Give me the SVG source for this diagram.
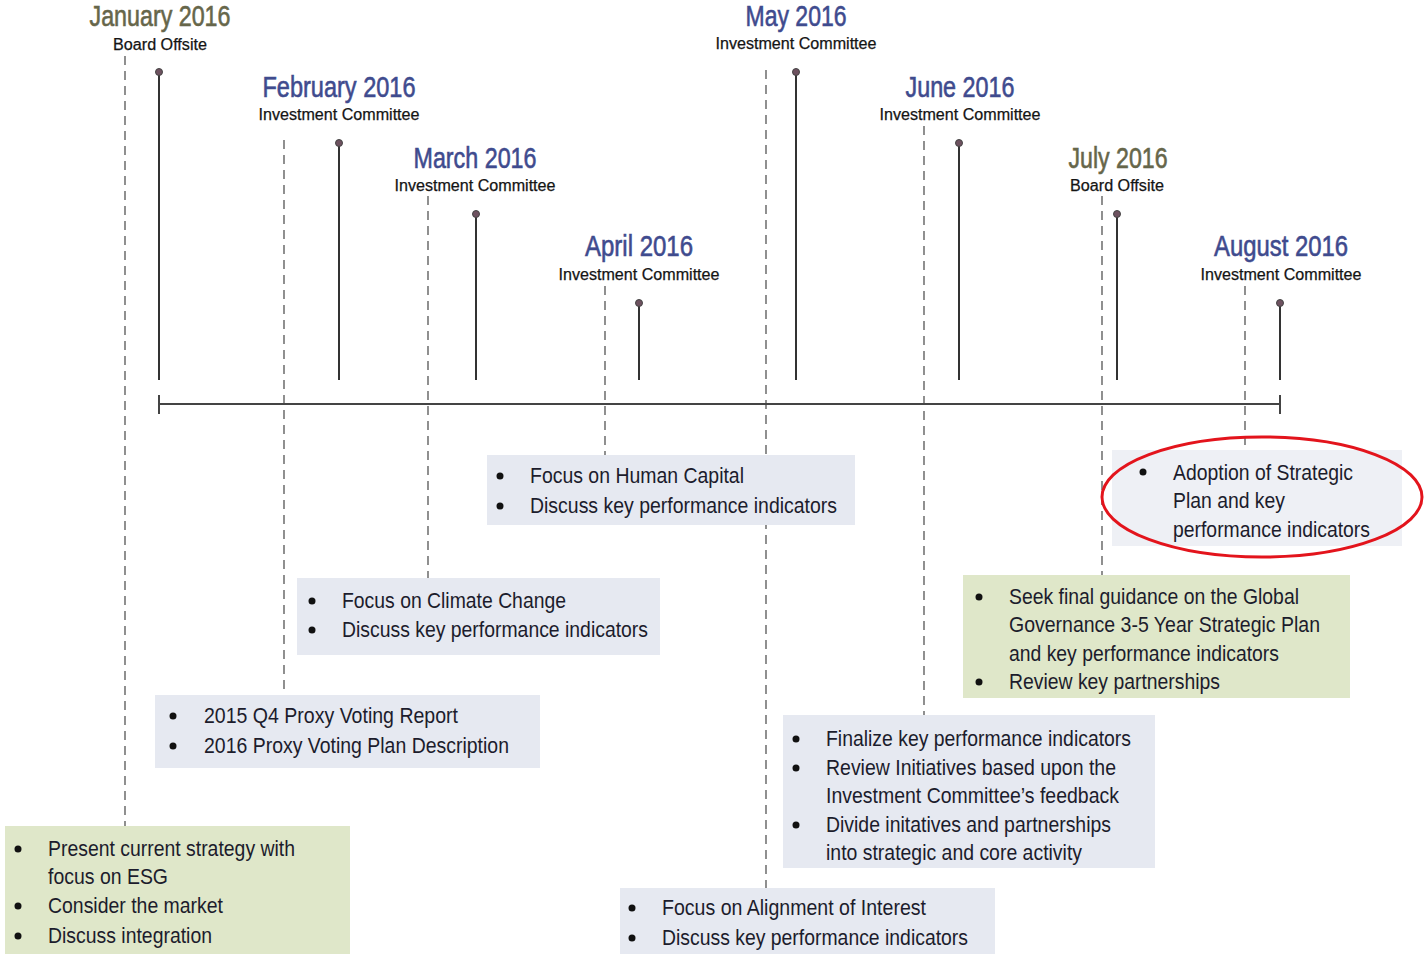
<svg xmlns="http://www.w3.org/2000/svg" width="1426" height="956" viewBox="0 0 1426 956">
<style>
.title{font-family:"Liberation Sans Narrow","Liberation Sans",Arial,sans-serif;font-size:29px;text-anchor:middle;stroke-width:0.6px}
.blue{fill:#3f4b8e;stroke:#3f4b8e}
.olive{fill:#66664a;stroke:#66664a}
.sub{font-family:"Liberation Sans",Arial,sans-serif;font-size:16px;fill:#141414;text-anchor:middle;stroke:#141414;stroke-width:0.25px}
.body{font-family:"Liberation Sans",Arial,sans-serif;font-size:22.5px;fill:#1c1c2c}
.bx{fill:#e6e9f1}
.gx{fill:#dfe7c9}
.dash{stroke:#555;stroke-width:1.3;stroke-dasharray:9 6;fill:none}
.pin{stroke:#333;stroke-width:2;fill:none}
.head{fill:#6e5260;stroke:#444;stroke-width:1}
.bul{fill:#111}
</style>
<rect width="1426" height="956" fill="#ffffff"/>

<g id="connectors">
  <line class="dash" x1="125" y1="56" x2="125" y2="826"/>
  <line class="dash" x1="284" y1="140" x2="284" y2="695"/>
  <line class="dash" x1="428" y1="196" x2="428" y2="578"/>
  <line class="dash" x1="605" y1="286" x2="605" y2="455"/>
  <line class="dash" x1="766" y1="70" x2="766" y2="888"/>
  <line class="dash" x1="924" y1="126" x2="924" y2="715"/>
  <line class="dash" x1="1102" y1="196" x2="1102" y2="575"/>
  <line class="dash" x1="1245" y1="286" x2="1245" y2="447"/>
  <line class="pin" x1="159" y1="72" x2="159" y2="380"/>
  <line class="pin" x1="339" y1="143" x2="339" y2="380"/>
  <line class="pin" x1="476" y1="214" x2="476" y2="380"/>
  <line class="pin" x1="639" y1="303" x2="639" y2="380"/>
  <line class="pin" x1="796" y1="72" x2="796" y2="380"/>
  <line class="pin" x1="959" y1="143" x2="959" y2="380"/>
  <line class="pin" x1="1117" y1="214" x2="1117" y2="380"/>
  <line class="pin" x1="1280" y1="303" x2="1280" y2="380"/>
  <circle class="head" cx="159" cy="72" r="3.5"/>
  <circle class="head" cx="339" cy="143" r="3.5"/>
  <circle class="head" cx="476" cy="214" r="3.5"/>
  <circle class="head" cx="639" cy="303" r="3.5"/>
  <circle class="head" cx="796" cy="72" r="3.5"/>
  <circle class="head" cx="959" cy="143" r="3.5"/>
  <circle class="head" cx="1117" cy="214" r="3.5"/>
  <circle class="head" cx="1280" cy="303" r="3.5"/>
  <line x1="159" y1="404" x2="1280" y2="404" stroke="#444" stroke-width="2"/>
  <line x1="159" y1="395" x2="159" y2="414" stroke="#444" stroke-width="2"/>
  <line x1="1280" y1="395" x2="1280" y2="414" stroke="#444" stroke-width="2"/>
</g>

<g id="jan">
  <text class="title olive" x="160" y="26" textLength="141" lengthAdjust="spacingAndGlyphs">January 2016</text>
  <text class="sub" x="160" y="50" textLength="94" lengthAdjust="spacingAndGlyphs">Board Offsite</text>
  <rect class="gx" x="5" y="826" width="345" height="128"/>
  <circle class="bul" cx="18" cy="849" r="3.5"/>
  <circle class="bul" cx="18" cy="906" r="3.5"/>
  <circle class="bul" cx="18" cy="936" r="3.5"/>
  <text class="body" x="48" y="856" textLength="247" lengthAdjust="spacingAndGlyphs">Present current strategy with</text>
  <text class="body" x="48" y="884" textLength="120" lengthAdjust="spacingAndGlyphs">focus on ESG</text>
  <text class="body" x="48" y="913" textLength="175" lengthAdjust="spacingAndGlyphs">Consider the market</text>
  <text class="body" x="48" y="943" textLength="164" lengthAdjust="spacingAndGlyphs">Discuss integration</text>
</g>

<g id="feb">
  <text class="title blue" x="339" y="97" textLength="153" lengthAdjust="spacingAndGlyphs">February 2016</text>
  <text class="sub" x="339" y="120" textLength="161" lengthAdjust="spacingAndGlyphs">Investment Committee</text>
  <rect class="bx" x="155" y="695" width="385" height="73"/>
  <circle class="bul" cx="173" cy="716" r="3.5"/>
  <circle class="bul" cx="173" cy="746" r="3.5"/>
  <text class="body" x="204" y="723" textLength="254" lengthAdjust="spacingAndGlyphs">2015 Q4 Proxy Voting Report</text>
  <text class="body" x="204" y="753" textLength="305" lengthAdjust="spacingAndGlyphs">2016 Proxy Voting Plan Description</text>
</g>

<g id="mar">
  <text class="title blue" x="475" y="168" textLength="123" lengthAdjust="spacingAndGlyphs">March 2016</text>
  <text class="sub" x="475" y="191" textLength="161" lengthAdjust="spacingAndGlyphs">Investment Committee</text>
  <rect class="bx" x="297" y="578" width="363" height="77"/>
  <circle class="bul" cx="312" cy="601" r="3.5"/>
  <circle class="bul" cx="312" cy="630" r="3.5"/>
  <text class="body" x="342" y="608" textLength="224" lengthAdjust="spacingAndGlyphs">Focus on Climate Change</text>
  <text class="body" x="342" y="637" textLength="306" lengthAdjust="spacingAndGlyphs">Discuss key performance indicators</text>
</g>

<g id="apr">
  <text class="title blue" x="639" y="256" textLength="108" lengthAdjust="spacingAndGlyphs">April 2016</text>
  <text class="sub" x="639" y="280" textLength="161" lengthAdjust="spacingAndGlyphs">Investment Committee</text>
  <rect class="bx" x="487" y="455" width="368" height="70"/>
  <circle class="bul" cx="500" cy="476" r="3.5"/>
  <circle class="bul" cx="500" cy="506" r="3.5"/>
  <text class="body" x="530" y="483" textLength="214" lengthAdjust="spacingAndGlyphs">Focus on Human Capital</text>
  <text class="body" x="530" y="513" textLength="307" lengthAdjust="spacingAndGlyphs">Discuss key performance indicators</text>
</g>

<g id="may">
  <text class="title blue" x="796" y="26" textLength="101" lengthAdjust="spacingAndGlyphs">May 2016</text>
  <text class="sub" x="796" y="49" textLength="161" lengthAdjust="spacingAndGlyphs">Investment Committee</text>
  <rect class="bx" x="620" y="888" width="375" height="66"/>
  <circle class="bul" cx="632" cy="908" r="3.5"/>
  <circle class="bul" cx="632" cy="938" r="3.5"/>
  <text class="body" x="662" y="915" textLength="264" lengthAdjust="spacingAndGlyphs">Focus on Alignment of Interest</text>
  <text class="body" x="662" y="945" textLength="306" lengthAdjust="spacingAndGlyphs">Discuss key performance indicators</text>
</g>

<g id="jun">
  <text class="title blue" x="960" y="97" textLength="109" lengthAdjust="spacingAndGlyphs">June 2016</text>
  <text class="sub" x="960" y="120" textLength="161" lengthAdjust="spacingAndGlyphs">Investment Committee</text>
  <rect class="bx" x="783" y="715" width="372" height="153"/>
  <circle class="bul" cx="796" cy="739" r="3.5"/>
  <circle class="bul" cx="796" cy="768" r="3.5"/>
  <circle class="bul" cx="796" cy="825" r="3.5"/>
  <text class="body" x="826" y="746" textLength="305" lengthAdjust="spacingAndGlyphs">Finalize key performance indicators</text>
  <text class="body" x="826" y="775" textLength="290" lengthAdjust="spacingAndGlyphs">Review Initiatives based upon the</text>
  <text class="body" x="826" y="803" textLength="293" lengthAdjust="spacingAndGlyphs">Investment Committee’s feedback</text>
  <text class="body" x="826" y="832" textLength="285" lengthAdjust="spacingAndGlyphs">Divide initatives and partnerships</text>
  <text class="body" x="826" y="860" textLength="256" lengthAdjust="spacingAndGlyphs">into strategic and core activity</text>
</g>

<g id="jul">
  <text class="title olive" x="1118" y="168" textLength="99" lengthAdjust="spacingAndGlyphs">July 2016</text>
  <text class="sub" x="1117" y="191" textLength="94" lengthAdjust="spacingAndGlyphs">Board Offsite</text>
  <rect class="gx" x="963" y="575" width="387" height="123"/>
  <circle class="bul" cx="979" cy="597" r="3.5"/>
  <circle class="bul" cx="979" cy="682" r="3.5"/>
  <text class="body" x="1009" y="604" textLength="290" lengthAdjust="spacingAndGlyphs">Seek final guidance on the Global</text>
  <text class="body" x="1009" y="632" textLength="311" lengthAdjust="spacingAndGlyphs">Governance 3-5 Year Strategic Plan</text>
  <text class="body" x="1009" y="661" textLength="270" lengthAdjust="spacingAndGlyphs">and key performance indicators</text>
  <text class="body" x="1009" y="689" textLength="211" lengthAdjust="spacingAndGlyphs">Review key partnerships</text>
</g>

<g id="aug">
  <text class="title blue" x="1281" y="256" textLength="134" lengthAdjust="spacingAndGlyphs">August 2016</text>
  <text class="sub" x="1281" y="280" textLength="161" lengthAdjust="spacingAndGlyphs">Investment Committee</text>
  <rect x="1112" y="450" width="290" height="96" fill="#eef0f5"/>
  <circle class="bul" cx="1143" cy="472" r="3.5"/>
  <text class="body" x="1173" y="480" textLength="180" lengthAdjust="spacingAndGlyphs">Adoption of Strategic</text>
  <text class="body" x="1173" y="508" textLength="112" lengthAdjust="spacingAndGlyphs">Plan and key</text>
  <text class="body" x="1173" y="537" textLength="197" lengthAdjust="spacingAndGlyphs">performance indicators</text>
  <ellipse cx="1262" cy="497" rx="160" ry="60" fill="none" stroke="#e3141c" stroke-width="3"/>
</g>
</svg>
